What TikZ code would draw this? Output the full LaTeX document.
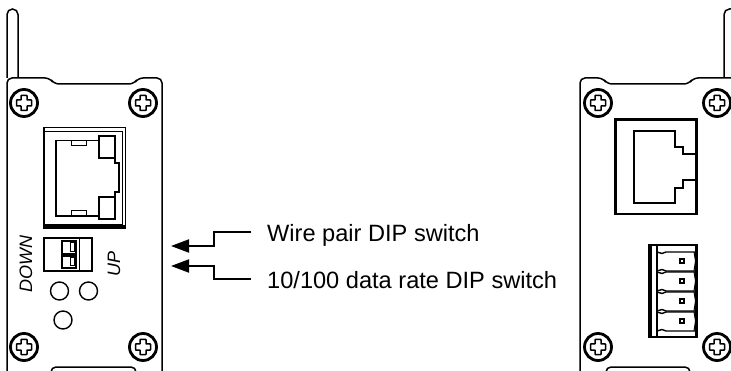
\documentclass[tikz,border=0pt]{standalone}
\usepackage{fontspec}
\setmainfont{Liberation Sans}
\usetikzlibrary{arrows.meta}
\tikzset{
    panel/.style={line width=1.5pt, rounded corners=5pt},
    part/.style={line width=1.4pt},
    heavy/.style={line width=2.6pt},
    thread/.style={line width=1pt},
    callout/.style={line width=2pt, -{Triangle[length=18pt,width=13pt]}},
    caption/.style={anchor=west, inner sep=0pt, font=\fontsize{23.6}{26}\selectfont},
    side/.style={inner sep=0pt, rotate=90, font=\fontsize{18}{20}\selectfont\itshape},
}
\newcommand{\screwhead}[1]{%
    \draw[line width=2.8pt] (#1) circle (13.5);
    \draw[line width=1.5pt, rounded corners=.5pt, shift={(#1)}]
        (-3,-7.5) -- (3,-7.5) -- (3,-3) -- (7.5,-3) -- (7.5,3) -- (3,3) -- (3,7.5)
        -- (-3,7.5) -- (-3,3) -- (-7.5,3) -- (-7.5,-3) -- (-3,-3) -- cycle;
}
\begin{document}
\begin{tikzpicture}[x=1pt,y=-1pt]
    \useasboundingbox (0,0) rectangle (731,371);
    \begin{scope}
        \clip (0,0) rectangle (731,371);
        % left face
        \draw[line width=1.5pt] (7,78) -- (7,14.5) arc (180:360:5.5) -- (18,78);
        \draw[panel] (7,400) -- (7,78) -- (50,78) -- (54,84) -- (134,84) -- (138,78) -- (162,78) -- (162,400);
        \draw[panel] (51,380) -- (51,367) -- (136,367) -- (136,380);
        \foreach \pos in {{24,103},{143,103},{24,347},{143,347}}
            \screwhead{\pos}
        \draw[part] (44,127.5) rectangle (125.5,228);
        \draw[thread] (44,132) -- (122,132) -- (122,225) -- (44,225);
        \draw[line width=1.6pt] (44,226) -- (125.5,226);
        \draw[part] (99,136) rectangle (115,158);
        \draw[part] (99,197) rectangle (115,219);
        \draw[part] (56,140.5) -- (99,140.5) (115,158) -- (115,163) -- (119,163) -- (119,192) -- (115,192) -- (115,197)
            (99,216) -- (56,216) -- (56,140.5);
        \draw[line width=2pt] (119,163) -- (119,192);
        \draw[thread] (71,140.5) rectangle (86,146);
        \draw[thread] (71,216) rectangle (86,211);
        \draw[part] (44,238) rectangle (92,271);
        \draw[thread] (79,238) -- (79,271);
        \draw[part] (62,241) rectangle (76,254);
        \draw[part] (62,256) rectangle (76,268);
        \draw[thread] (70,243) rectangle (74,252);
        \draw[thread] (70,258) rectangle (74,266);
        \draw[part] (59.5,291) circle (9);
        \draw[part] (88.5,291) circle (9);
        \draw[part] (63,320) circle (9);
        \node[side] (down) at (26,264) {DOWN};
        \node[side] (up) at (114,263.5) {UP};
        % right face
        \draw[line width=1.5pt] (724,78) -- (724,14.5) arc (180:270:5.5) -- (740,9);
        \draw[panel] (580,400) -- (580,78) -- (603,78) -- (607,84) -- (689,84) -- (693,78) -- (740,78);
        \draw[panel] (606,380) -- (606,367) -- (690,367) -- (690,380);
        \foreach \pos in {{598,103},{717,103},{598,347},{717,347}}
            \screwhead{\pos}
        \draw[heavy] (615.5,119.5) rectangle (696.5,214);
        \draw[part] (695,154) -- (683,154) -- (683,147) -- (675,147) -- (675,131) -- (634,131) -- (634,203)
            -- (675,203) -- (675,188) -- (683,188) -- (683,180) -- (695,180);
        \draw[heavy] (649,245) rectangle (696.5,337);
        \draw[line width=4pt] (650,245) -- (650,337);
        \draw[part] (657,245) -- (657,337);
        \foreach \row in {252,272,292,312}{
            \draw[part] (657,\row) -- ++(5,1.5) -- ++(4,-1.5) -- ++(29,0);
            \draw[part] (657,\row+19) -- ++(5,-1.5) -- ++(4,1.5) -- ++(29,0);
            \draw[thread] (694,\row) -- ++(1.5,9) -- ++(-1.5,10);
            \draw[line width=1.4pt] (682,\row+9) +(-2,-2) rectangle +(2,2);
        }
    \end{scope}
    % callouts
    \node[caption] (wire) at (267,235) {Wire pair DIP switch};
    \node[caption] (rate) at (267,280) {10/100 data rate DIP switch};
    \coordinate (wirehead) at (171,246);
    \coordinate (ratehead) at (171,266);
    \coordinate (wiretail) at (251,232);
    \coordinate (ratetail) at (251,279);
    \draw[callout] (wiretail) -- (214,232) -- (214,246) -- (wirehead);
    \draw[callout] (ratetail) -- (214,279) -- (214,266) -- (ratehead);
\end{tikzpicture}
\end{document}
